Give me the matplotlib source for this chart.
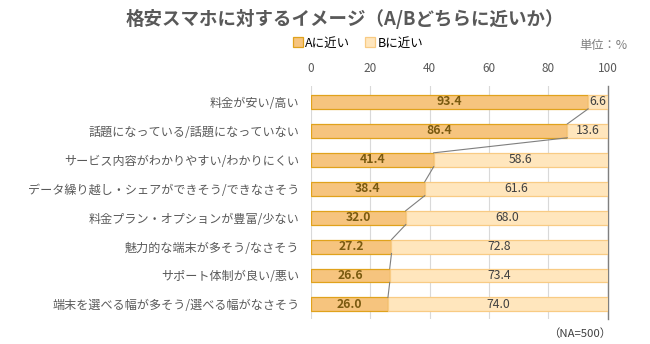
import matplotlib
matplotlib.use("Agg")
import matplotlib.pyplot as plt
import numpy as np

plt.rcParams['font.family'] = ['Noto Sans CJK JP', 'DejaVu Sans']

# data
categories = ["料金が安い/高い",
              "話題になっている/話題になっていない",
              "サービス内容がわかりやすい/わかりにくい",
              "データ繰り越し・シェアができそう/できなさそう",
              "料金プラン・オプションが豊富/少ない",
              "魅力的な端末が多そう/なさそう",
              "サポート体制が良い/悪い",
              "端末を選べる幅が多そう/選べる幅がなさそう"]
a_vals = [93.4, 86.4, 41.4, 38.4, 32.0, 27.2, 26.6, 26.0]
b_vals = [6.6, 13.6, 58.6, 61.6, 68.0, 72.8, 73.4, 74.0]
xticks = [0, 20, 40, 60, 80, 100]

fig = plt.figure(figsize=(6.5, 3.44), dpi=100)
ax = fig.add_axes([0.478, 0.073, 0.457, 0.677])

y = np.arange(len(categories))
h = 0.48
barsA = ax.barh(y, a_vals, height=h, color='#F6C47E', edgecolor='#E0A21C', linewidth=0.9, label='Aに近い', zorder=3)
barsB = ax.barh(y, b_vals, left=a_vals, height=h, color='#FFE6BD', edgecolor='#F8CB84', linewidth=0.9, label='Bに近い', zorder=3)

# series lines
for i in range(len(a_vals) - 1):
    ax.plot([a_vals[i], a_vals[i + 1]], [i + h / 2, i + 1 - h / 2], color='#7F7F7F', lw=0.8, zorder=4)

for i in range(len(a_vals)):
    ax.text(a_vals[i] / 2, i, f"{a_vals[i]:.1f}", ha='center', va='center', fontsize=8.8, fontweight='bold', color='#7A5A10', zorder=5)
    ax.text(a_vals[i] + b_vals[i] / 2, i, f"{b_vals[i]:.1f}", ha='center', va='center', fontsize=8.8, color='#404040', zorder=5)

ax.set_xlim(0, 100)
ax.set_ylim(7.5, -0.55)
ax.set_yticks(y)
ax.set_yticklabels(categories, fontsize=8.7, color='#595959')
ax.set_xticks(xticks)
ax.xaxis.tick_top()
ax.tick_params(axis='x', length=0, labelsize=8.5, labelcolor='#595959', pad=8)
ax.tick_params(axis='y', length=0, pad=8)
ax.grid(axis='x', color='#D9D9D9', lw=0.8, zorder=0)
for s in ['left', 'top', 'bottom']:
    ax.spines[s].set_visible(False)
ax.spines['right'].set_color('#7F7F7F')
ax.spines['right'].set_linewidth(1.0)

fig.text(0.53, 0.945, "格安スマホに対するイメージ（A/Bどちらに近いか）", ha='center', va='center', fontsize=13.3, fontweight='bold', color='#595959')
fig.legend(handles=[barsA, barsB], loc='center', bbox_to_anchor=(0.551, 0.875), ncol=2, frameon=False, fontsize=9, handlelength=0.8, handleheight=0.8, handletextpad=0.2, columnspacing=1.2)
fig.text(0.965, 0.868, "単位：%", ha='right', va='center', fontsize=8.8, color='#7F7F7F')
fig.text(0.94, 0.03, "（NA=500）", ha='right', va='center', fontsize=8.2, color='#404040')

fig.savefig("out.png", dpi=100)
